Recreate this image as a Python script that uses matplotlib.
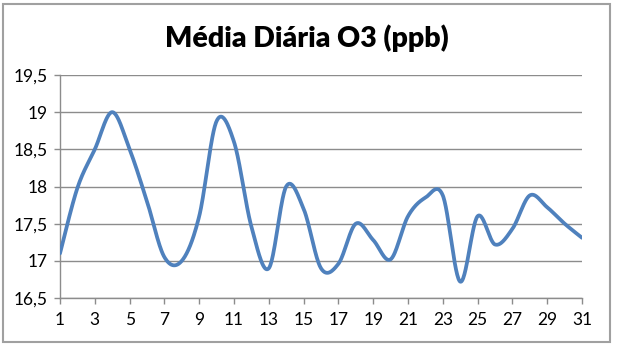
import numpy as np
import matplotlib
matplotlib.use("Agg")
import matplotlib.pyplot as plt
from matplotlib.patches import Rectangle

days = list(range(1, 32))
o3 = [17.1, 17.98, 18.5, 19.0, 18.5, 17.8, 17.05, 17.0, 17.6, 18.88,
      18.6, 17.46, 16.9, 18.0, 17.7, 16.9, 16.96, 17.5, 17.28, 17.02,
      17.6, 17.85, 17.88, 16.72, 17.6, 17.22, 17.43, 17.88, 17.72, 17.5, 17.31]
yticks = [16.5, 17, 17.5, 18, 18.5, 19, 19.5]
ytick_labels = ["16,5", "17", "17,5", "18", "18,5", "19", "19,5"]
xticks = list(range(1, 32, 2))
title = "Média Diária O3 (ppb)"


def excel_smooth(x, y, n=30):
    x = np.asarray(x, float)
    y = np.asarray(y, float)
    px = np.concatenate([[x[0]], x, [x[-1]]])
    py = np.concatenate([[y[0]], y, [y[-1]]])
    xs, ys = [], []
    t = np.linspace(0, 1, n)
    for i in range(1, len(px) - 2):
        p0 = np.array([px[i], py[i]])
        p3 = np.array([px[i + 1], py[i + 1]])
        c1 = p0 + (np.array([px[i + 1], py[i + 1]]) - np.array([px[i - 1], py[i - 1]])) / 6
        c2 = p3 - (np.array([px[i + 2], py[i + 2]]) - np.array([px[i], py[i]])) / 6
        b = ((1 - t) ** 3)[:, None] * p0 + (3 * (1 - t) ** 2 * t)[:, None] * c1 \
            + (3 * (1 - t) * t ** 2)[:, None] * c2 + (t ** 3)[:, None] * p3
        xs.extend(b[:, 0])
        ys.extend(b[:, 1])
    return np.array(xs), np.array(ys)


fig = plt.figure(figsize=(6.17, 3.48), dpi=100)
ax = fig.add_axes([60 / 617, 1 - 298 / 348, (582 - 60) / 617, (298 - 75) / 348])

sx, sy = excel_smooth(days, o3)
ax.plot(sx, sy, color="#4F81BD", lw=2.7, solid_capstyle="round", zorder=3)

ax.set_xlim(1, 31)
ax.set_ylim(16.5, 19.5)
ax.set_yticks(yticks)
ax.set_yticklabels(ytick_labels)
ax.set_xticks(xticks)
ax.set_xticklabels([str(d) for d in xticks])
ax.grid(axis="y", color="#8C8C8C", lw=1.0)
ax.set_axisbelow(True)
for s in ["top", "right"]:
    ax.spines[s].set_visible(False)
for s in ["left", "bottom"]:
    ax.spines[s].set_color("#8C8C8C")
    ax.spines[s].set_linewidth(1.0)
ax.tick_params(axis="both", colors="#8C8C8C", length=4, width=1.0, labelcolor="black",
               labelsize=12.5)
ax.tick_params(axis="x", pad=6)
ax.tick_params(axis="y", pad=5)
for lab in ax.get_xticklabels() + ax.get_yticklabels():
    lab.set_fontfamily("Lato")

fig.text(307 / 617, 1 - 38 / 348, title, ha="center", va="center",
         fontsize=20.5, fontweight="heavy", family="Lato")

fig.patches.append(Rectangle((3 / 617, 1 - 342 / 348), 607 / 617, 338 / 348,
                             transform=fig.transFigure,
                             fill=False, edgecolor="#A0A0A0", lw=1.5))

fig.savefig("out.png", dpi=100)
